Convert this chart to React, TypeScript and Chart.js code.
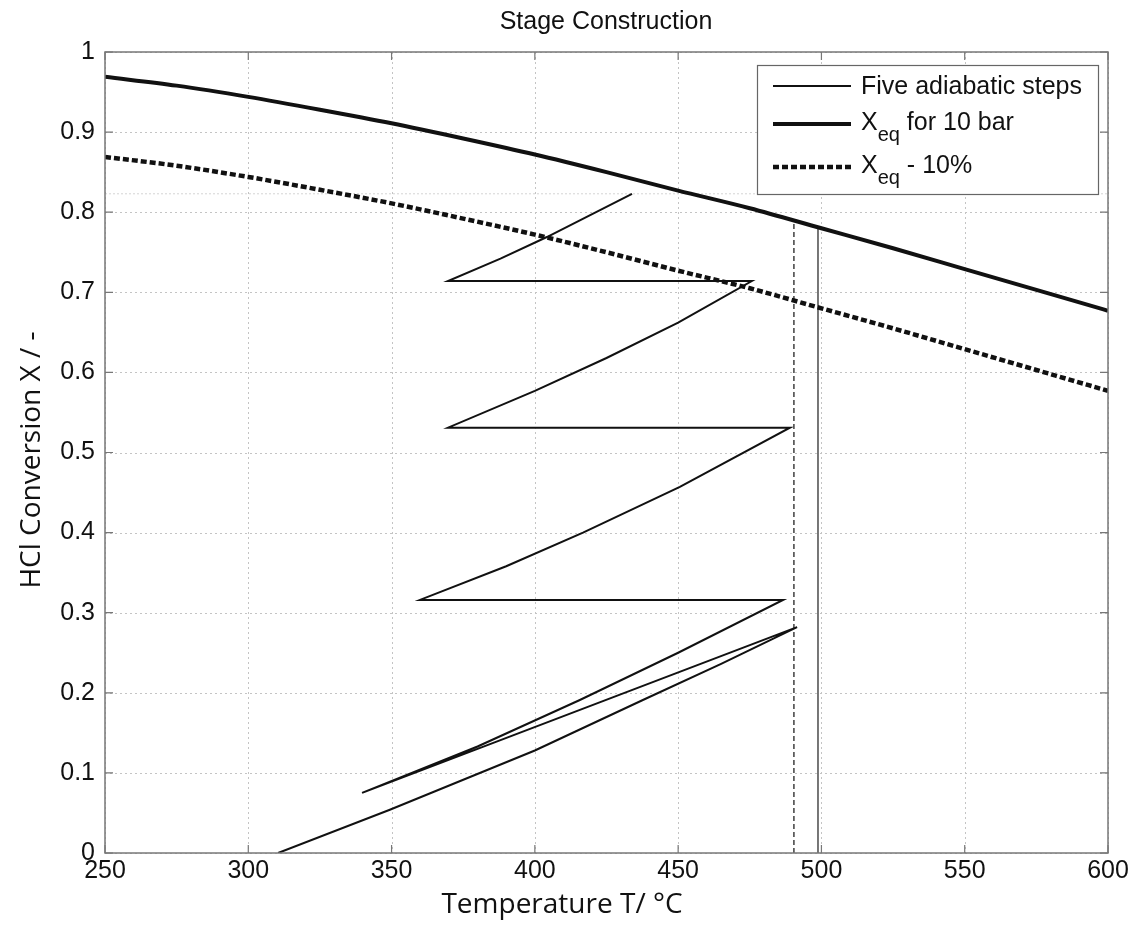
import React, { useEffect, useRef } from "react";
import { Chart, registerables } from "chart.js";

Chart.register(...registerables);

// ---- data ----
const xTicks = [250, 300, 350, 400, 450, 500, 550, 600];
const yTicks = [0, 0.1, 0.2, 0.3, 0.4, 0.5, 0.6, 0.7, 0.8, 0.9, 1];

const eqT = [250, 275, 300, 325, 350, 375, 400, 425, 450, 475, 500, 525, 550, 575, 600];
const eqX = [0.969, 0.958, 0.944, 0.928, 0.911, 0.892, 0.872, 0.85, 0.827, 0.805, 0.78, 0.755, 0.729, 0.703, 0.677];
const eqMinusX = [0.869, 0.858, 0.844, 0.828, 0.811, 0.792, 0.772, 0.75, 0.727, 0.705, 0.68, 0.655, 0.629, 0.603, 0.577];

const stepsT = [
  310.4, 349.4, 400, 437.7, 465, 491.5,
  339.7, 380, 415.7, 450, 486.6,
  359.9, 390, 416.8, 450.6, 489,
  369.7, 400, 425, 450, 475.7,
  369.7, 388, 404.2, 433.9,
];
const stepsX = [
  0, 0.054, 0.128, 0.191, 0.236, 0.282,
  0.075, 0.133, 0.191, 0.25, 0.316,
  0.316, 0.358, 0.4, 0.457, 0.531,
  0.531, 0.577, 0.618, 0.662, 0.714,
  0.714, 0.742, 0.769, 0.823,
];

const dashedT = [490.4, 490.4];
const dashedX = [0, 0.786];
const solidT = [498.8, 498.8];
const solidX = [0, 0.781];
const refT = [250, 600];
const refX = [0.823, 0.823];

const titleText = "Stage Construction";
const xTitle = "Temperature T/ \u00b0C";
const yTitle = "HCl Conversion X / -";

const pts = (xs: number[], ys: number[]) => xs.map((x, i) => ({ x, y: ys[i] }));

const FONT = "'Liberation Sans', Arial, sans-serif";
const TITLE_FONT = "'Open Sans', 'Noto Sans', sans-serif";

const framePlugin = {
  id: "frame",
  beforeDatasetsDraw(chart: any) {
    const { ctx, chartArea: a, scales } = chart;
    ctx.save();
    ctx.strokeStyle = "#c4c4c4";
    ctx.lineWidth = 1;
    ctx.setLineDash([2, 3]);
    xTicks.forEach((v) => {
      const px = Math.round(scales.x.getPixelForValue(v)) + 0.5;
      ctx.beginPath();
      ctx.moveTo(px, a.top);
      ctx.lineTo(px, a.bottom);
      ctx.stroke();
    });
    yTicks.forEach((v) => {
      const py = Math.round(scales.y.getPixelForValue(v)) + 0.5;
      ctx.beginPath();
      ctx.moveTo(a.left, py);
      ctx.lineTo(a.right, py);
      ctx.stroke();
    });
    ctx.restore();
  },
  afterDatasetsDraw(chart: any) {
    const { ctx, chartArea: a, scales } = chart;
    ctx.save();
    // border box
    ctx.strokeStyle = "#777";
    ctx.lineWidth = 1.5;
    ctx.setLineDash([]);
    ctx.strokeRect(a.left, a.top, a.right - a.left, a.bottom - a.top);
    // inward ticks
    const tl = 8;
    ctx.lineWidth = 1.2;
    xTicks.forEach((v) => {
      const px = scales.x.getPixelForValue(v);
      ctx.beginPath();
      ctx.moveTo(px, a.bottom);
      ctx.lineTo(px, a.bottom - tl);
      ctx.moveTo(px, a.top);
      ctx.lineTo(px, a.top + tl);
      ctx.stroke();
    });
    yTicks.forEach((v) => {
      const py = scales.y.getPixelForValue(v);
      ctx.beginPath();
      ctx.moveTo(a.left, py);
      ctx.lineTo(a.left + tl, py);
      ctx.moveTo(a.right, py);
      ctx.lineTo(a.right - tl, py);
      ctx.stroke();
    });

    // legend
    const bx = 757, by = 65, bw = 341, bh = 129;
    ctx.fillStyle = "#fff";
    ctx.fillRect(bx, by, bw, bh);
    ctx.strokeStyle = "#666";
    ctx.lineWidth = 1.2;
    ctx.strokeRect(bx + 0.5, by + 0.5, bw, bh);

    const lx0 = 773, lx1 = 851, tx = 861;
    const rows = [86, 124, 167];
    ctx.strokeStyle = "#111";
    ctx.lineWidth = 1.8;
    ctx.beginPath();
    ctx.moveTo(lx0, rows[0]);
    ctx.lineTo(lx1, rows[0]);
    ctx.stroke();
    ctx.lineWidth = 4;
    ctx.beginPath();
    ctx.moveTo(lx0, rows[1]);
    ctx.lineTo(lx1, rows[1]);
    ctx.stroke();
    ctx.lineWidth = 4.5;
    ctx.setLineDash([6, 3]);
    ctx.beginPath();
    ctx.moveTo(lx0, rows[2]);
    ctx.lineTo(lx1, rows[2]);
    ctx.stroke();
    ctx.setLineDash([]);

    ctx.fillStyle = "#111";
    ctx.textBaseline = "alphabetic";
    ctx.textAlign = "left";
    ctx.font = `25px ${FONT}`;
    ctx.fillText("Five adiabatic steps", tx, 94);

    const drawXeq = (baseline: number, rest: string) => {
      ctx.font = `25px ${FONT}`;
      ctx.fillText("X", tx, baseline);
      const wX = ctx.measureText("X").width;
      ctx.font = `20px ${FONT}`;
      ctx.fillText("eq", tx + wX, baseline + 11);
      const wEq = ctx.measureText("eq").width;
      ctx.font = `25px ${FONT}`;
      ctx.fillText(rest, tx + wX + wEq, baseline);
    };
    drawXeq(130, " for 10 bar");
    drawXeq(173, " - 10%");
    ctx.restore();
  },
  afterDraw(chart: any) {
    const { ctx } = chart;
    ctx.save();
    ctx.fillStyle = "#111";
    ctx.textAlign = "center";
    ctx.textBaseline = "middle";
    ctx.font = `25px ${FONT}`;
    ctx.fillText(titleText, 606, 22);
    ctx.font = `28px ${TITLE_FONT}`;
    ctx.fillText(xTitle, 562, 905);
    ctx.translate(32, 460);
    ctx.rotate(-Math.PI / 2);
    ctx.fillText(yTitle, 0, 0);
    ctx.restore();
  },
};

export default function App() {
  const ref = useRef<HTMLCanvasElement | null>(null);
  useEffect(() => {
    if (!ref.current) return;
    const chart = new Chart(ref.current, {
      type: "scatter",
      data: {
        datasets: [
          {
            label: "Five adiabatic steps",
            data: pts(stepsT, stepsX),
            showLine: true,
            borderColor: "#111",
            borderWidth: 2,
            pointRadius: 0,
            tension: 0,
            order: 1,
          },
          {
            label: "Xeq for 10 bar",
            data: pts(eqT, eqX),
            showLine: true,
            borderColor: "#111",
            borderWidth: 4,
            pointRadius: 0,
            cubicInterpolationMode: "monotone",
            order: 2,
          },
          {
            label: "Xeq - 10%",
            data: pts(eqT, eqMinusX),
            showLine: true,
            borderColor: "#111",
            borderWidth: 4.5,
            borderDash: [6, 3],
            pointRadius: 0,
            cubicInterpolationMode: "monotone",
            order: 3,
          },
          {
            label: "dashed",
            data: pts(dashedT, dashedX),
            showLine: true,
            borderColor: "#222",
            borderWidth: 1.3,
            borderDash: [5, 3],
            pointRadius: 0,
            order: 4,
          },
          {
            label: "solid",
            data: pts(solidT, solidX),
            showLine: true,
            borderColor: "#555",
            borderWidth: 1.6,
            pointRadius: 0,
            order: 5,
          },
          {
            label: "ref",
            data: pts(refT, refX),
            showLine: true,
            borderColor: "#d4d4d4",
            borderWidth: 1,
            borderDash: [2, 2],
            pointRadius: 0,
            order: 6,
          },
        ],
      },
      options: {
        animation: false,
        responsive: false,
        devicePixelRatio: 1,
        layout: { padding: { top: 52, right: 32, left: 0, bottom: 0 } },
        plugins: {
          legend: { display: false },
          title: { display: false },
          tooltip: { enabled: false },
        },
        scales: {
          x: {
            type: "linear",
            min: 250,
            max: 600,
            afterBuildTicks: (s: any) => {
              s.ticks = xTicks.map((v) => ({ value: v }));
            },
            afterFit: (s: any) => {
              s.height = 81;
            },
            ticks: {
              color: "#111",
              font: { family: FONT, size: 25 },
              padding: 3,
              maxRotation: 0,
              callback: (v: any) => String(v),
            },
            grid: { display: false, drawTicks: false, tickLength: 0 },
            border: { display: false },
          },
          y: {
            type: "linear",
            min: 0,
            max: 1,
            afterBuildTicks: (s: any) => {
              s.ticks = yTicks.map((v) => ({ value: v }));
            },
            afterFit: (s: any) => {
              s.width = 105;
            },
            ticks: {
              color: "#111",
              font: { family: FONT, size: 25 },
              padding: 10,
              callback: (v: any) => String(v),
            },
            grid: { display: false, drawTicks: false, tickLength: 0 },
            border: { display: false },
          },
        },
      },
      plugins: [framePlugin],
    } as any);
    return () => chart.destroy();
  }, []);
  return (
    <div style={{ position: "absolute", left: 0, top: 0, width: 1140, height: 934, background: "#fff" }}>
      <canvas ref={ref} width={1140} height={934} style={{ width: 1140, height: 934, display: "block" }} />
    </div>
  );
}
